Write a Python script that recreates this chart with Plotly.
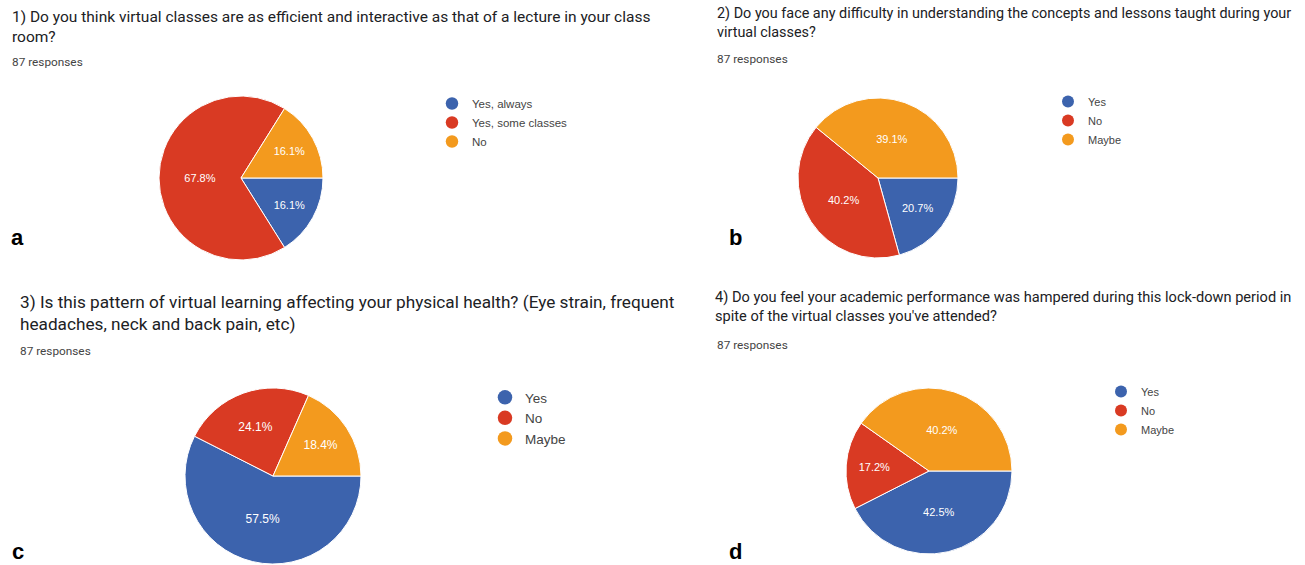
import plotly.graph_objects as go

W, H = 1305, 565

# ---- data ----
labels_a = ["Yes, always", "Yes, some classes", "No"]
counts_a = [14, 59, 14]
labels_b = ["Yes", "No", "Maybe"]
counts_b = [18, 35, 34]
labels_c = ["Yes", "No", "Maybe"]
counts_c = [50, 21, 16]
labels_d = ["Yes", "No", "Maybe"]
counts_d = [37, 15, 35]

titles = [
    "1) Do you think virtual classes are as efficient and interactive as that of a lecture in your class<br>room?",
    "2) Do you face any difficulty in understanding the concepts and lessons taught during your<br>virtual classes?",
    "3) Is this pattern of virtual learning affecting your physical health? (Eye strain, frequent<br>headaches, neck and back pain, etc)",
    "4) Do you feel your academic performance was hampered during this lock-down period in<br>spite of the virtual classes you've attended?",
]
responses = "87 responses"
panel_letters = ["a", "b", "c", "d"]

colors = ["#3c63ad", "#d93a23", "#f39a1e"]

# ---- layout geometry (pixels) ----
pies = [
    (labels_a, counts_a, 241, 178, 82, 11),
    (labels_b, counts_b, 878, 178, 80, 11),
    (labels_c, counts_c, 273, 476, 88, 12),
    (labels_d, counts_d, 929, 471, 83, 11),
]
legend_pos = [(432, 89), (1048, 87), (485, 382), (1101, 377)]
legend_font = [11.5, 11, 13.5, 11]
title_pos = [(10, 17, 15.5), (715, 14, 14.4), (18, 301, 17.2), (713, 297, 14.6)]
resp_pos = [(10, 62), (715, 59), (18, 351), (715, 345)]
letter_pos = [(17, 237), (735, 237), (18, 551), (735, 551)]

fig = go.Figure()

for i, (labs, vals, cx, cy, r, fs) in enumerate(pies):
    lg = "legend" if i == 0 else f"legend{i+1}"
    y0 = max(0.0, 1 - (cy + r) / H)
    y1 = min(1.0, 1 - (cy - r) / H)
    fig.add_trace(go.Pie(
        labels=labs, values=vals, sort=False, direction="clockwise", rotation=90,
        marker=dict(colors=colors, line=dict(color="white", width=1)),
        texttemplate="%{percent:.1%}", textposition="inside",
        insidetextorientation="horizontal",
        textfont=dict(color="white", size=fs, family="Arial"),
        showlegend=False, hoverinfo="label+percent",
        domain=dict(x=[(cx - r) / W, (cx + r) / W], y=[y0, y1]),
    ))
    for lab, col in zip(labs, colors):
        fig.add_trace(go.Scatter(
            x=[None], y=[None], mode="markers", name=lab,
            marker=dict(color=col, size=legend_font[i] + 1, symbol="circle"),
            showlegend=True, legend=lg,
        ))

legend_layout = {}
for i, (lx, ly) in enumerate(legend_pos):
    key = "legend" if i == 0 else f"legend{i+1}"
    legend_layout[key] = dict(
        x=lx / W, y=1 - ly / H, xanchor="left", yanchor="top",
        bgcolor="rgba(0,0,0,0)",
        font=dict(family="Arial", size=legend_font[i], color="#444444"),
        itemclick=False,
    )

annotations = []
for i, t in enumerate(titles):
    tx, ty, tfs = title_pos[i]
    annotations.append(dict(
        x=tx / W, y=1 - (ty - 11) / H, xref="paper", yref="paper",
        xanchor="left", yanchor="top", align="left", showarrow=False,
        text=t, font=dict(family="Roboto", size=tfs, color="#202124"),
    ))
    rx, ry = resp_pos[i]
    annotations.append(dict(
        x=rx / W, y=1 - ry / H, xref="paper", yref="paper",
        xanchor="left", yanchor="middle", showarrow=False,
        text=responses, font=dict(family="Roboto", size=11.8, color="#444444"),
    ))
    lx, ly = letter_pos[i]
    annotations.append(dict(
        x=lx / W, y=1 - ly / H, xref="paper", yref="paper",
        xanchor="center", yanchor="middle", showarrow=False,
        text=f"<b>{panel_letters[i]}</b>", font=dict(family="Arial", size=22, color="#000000"),
    ))

fig.update_layout(
    width=W, height=H, margin=dict(l=0, r=0, t=0, b=0),
    paper_bgcolor="white", plot_bgcolor="white",
    xaxis=dict(visible=False), yaxis=dict(visible=False),
    annotations=annotations,
    **legend_layout,
)

fig.write_html("out.html")
